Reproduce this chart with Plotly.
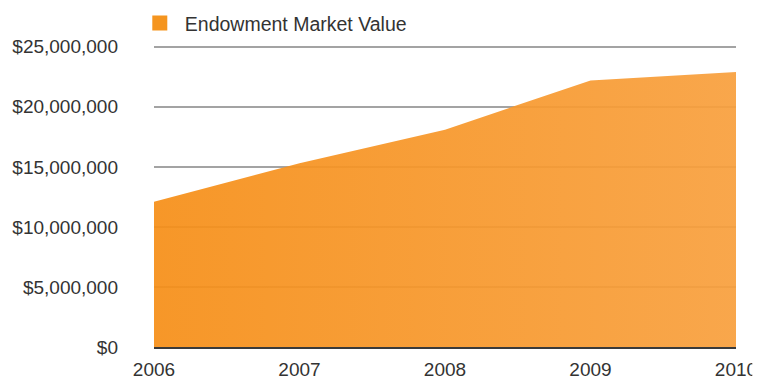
import plotly.graph_objects as go

# Endowment market value at year end (USD)
years = [2006, 2007, 2008, 2009, 2010]
market_value = [12_100_000, 15_300_000, 18_100_000, 22_200_000, 22_900_000]
series_name = "Endowment Market Value"

y_ticks = [0, 5_000_000, 10_000_000, 15_000_000, 20_000_000, 25_000_000]
y_tick_labels = ["$0", "$5,000,000", "$10,000,000", "$15,000,000",
                 "$20,000,000", "$25,000,000"]

FONT = "Liberation Sans, Arial, sans-serif"
ORANGE_DARK = "rgba(246,143,24,0.93)"
ORANGE_LIGHT = "rgba(248,160,62,0.93)"

fig = go.Figure()

# filled area with left-to-right gradient
fig.add_trace(go.Scatter(
    x=years, y=market_value,
    mode="none",
    fill="tozeroy",
    fillgradient=dict(type="horizontal",
                      colorscale=[[0, ORANGE_DARK], [1, ORANGE_LIGHT]]),
    showlegend=False,
    hoverinfo="x+y",
))

# legend entry with a square swatch
fig.add_trace(go.Scatter(
    x=[None], y=[None],
    mode="markers",
    marker=dict(symbol="square", size=15, color="#F5951F"),
    name=series_name,
    showlegend=True,
))

fig.update_layout(
    width=769, height=383,
    margin=dict(l=154, r=33, t=45, b=36, autoexpand=False),
    paper_bgcolor="white",
    plot_bgcolor="white",
    font=dict(family=FONT, size=19, color="#333333"),
    showlegend=True,
    legend=dict(
        orientation="h",
        x=-0.033, xanchor="left",
        y=1.072, yanchor="middle",
        font=dict(family=FONT, size=19.5, color="#333333"),
        bgcolor="rgba(0,0,0,0)",
        itemwidth=40,
    ),
    xaxis=dict(
        range=[2006, 2010],
        tickvals=years,
        ticktext=[str(y) for y in years],
        showgrid=False,
        zeroline=False,
        showline=True,
        linecolor="#3a3a3a",
        linewidth=2,
        ticks="",
        ticklabelstandoff=4,
        tickfont=dict(family=FONT, size=19, color="#333333"),
    ),
    yaxis=dict(
        range=[0, 25_150_000],
        tickvals=y_ticks,
        ticktext=y_tick_labels,
        showgrid=True,
        gridcolor="#a3a3a3",
        gridwidth=2,
        zeroline=False,
        showline=False,
        ticks="",
        ticklabelstandoff=35,
        tickfont=dict(family=FONT, size=19, color="#333333"),
    ),
    hovermode="x",
)

# trim the right edge of the last year label
fig.add_shape(type="rect", xref="paper", yref="paper",
              x0=1.028, x1=1.07, y0=-0.02, y1=-0.13,
              fillcolor="white", line=dict(width=0), layer="above")

fig.write_html("out.html")
